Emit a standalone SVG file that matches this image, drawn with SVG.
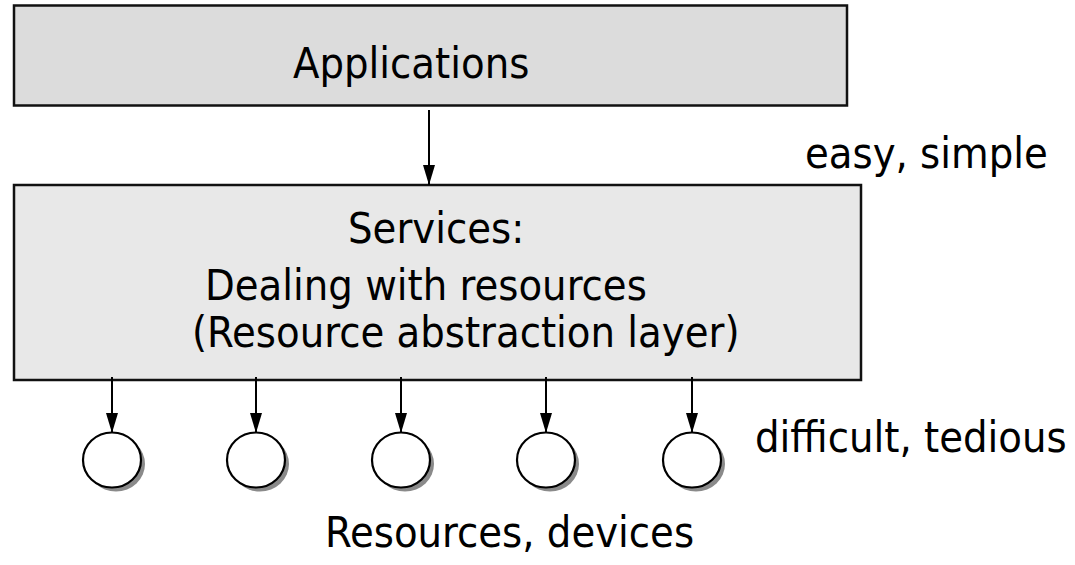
<svg xmlns="http://www.w3.org/2000/svg" width="1075" height="565" viewBox="0 0 1075 565">
  <style>
    .box { stroke: #111; stroke-width: 2.5; }
    .t { font-family: "DejaVu Sans Condensed", "DejaVu Sans", sans-serif; font-size: 43px; fill: #000; }
    .res { fill: #fff; stroke: #000; stroke-width: 2.2; }
    .shadow { fill: #8a8a8a; }
    .conn { stroke: #000; stroke-width: 2; fill: none; marker-end: url(#arr); }
  </style>
  <defs>
    <marker id="arr" viewBox="0 0 20 12" refX="20" refY="6" markerWidth="20" markerHeight="12" markerUnits="userSpaceOnUse" orient="auto">
      <path d="M0,0 L20,6 L0,12 Z" fill="#000"/>
    </marker>
  </defs>
  <rect width="1075" height="565" fill="#fff"/>
  <g id="applications">
    <rect class="box" x="14" y="5.5" width="833" height="100" fill="#dcdcdc"/>
    <text class="t" x="293" y="78">Applications</text>
  </g>
  <g id="services">
    <rect class="box" x="14" y="185" width="847" height="195" fill="#e8e8e8"/>
    <text class="t" x="348" y="243">Services:</text>
    <text class="t" x="205" y="300">Dealing with resources</text>
    <text class="t" x="192" y="347">(Resource abstraction layer)</text>
  </g>
  <g id="label-easy">
    <text class="t" x="805" y="168">easy, simple</text>
  </g>
  <g id="label-difficult">
    <text class="t" x="755" y="452">difficult, tedious</text>
  </g>
  <g id="label-resources">
    <text class="t" x="325" y="547">Resources, devices</text>
  </g>
  <g id="resource1">
    <ellipse class="shadow" cx="116" cy="464" rx="29" ry="27.5"/>
    <ellipse class="res" cx="112" cy="460" rx="29" ry="27.5"/>
  </g>
  <g id="resource2">
    <ellipse class="shadow" cx="260" cy="464" rx="29" ry="27.5"/>
    <ellipse class="res" cx="256" cy="460" rx="29" ry="27.5"/>
  </g>
  <g id="resource3">
    <ellipse class="shadow" cx="405" cy="464" rx="29" ry="27.5"/>
    <ellipse class="res" cx="401" cy="460" rx="29" ry="27.5"/>
  </g>
  <g id="resource4">
    <ellipse class="shadow" cx="550" cy="464" rx="29" ry="27.5"/>
    <ellipse class="res" cx="546" cy="460" rx="29" ry="27.5"/>
  </g>
  <g id="resource5">
    <ellipse class="shadow" cx="696" cy="464" rx="29" ry="27.5"/>
    <ellipse class="res" cx="692" cy="460" rx="29" ry="27.5"/>
  </g>
  <g id="connectors">
    <line class="conn" x1="429" y1="110" x2="429" y2="185"/>
    <line class="conn" x1="112" y1="377" x2="112" y2="433"/>
    <line class="conn" x1="256" y1="377" x2="256" y2="433"/>
    <line class="conn" x1="401" y1="377" x2="401" y2="433"/>
    <line class="conn" x1="546" y1="377" x2="546" y2="433"/>
    <line class="conn" x1="692" y1="377" x2="692" y2="433"/>
  </g>
</svg>
